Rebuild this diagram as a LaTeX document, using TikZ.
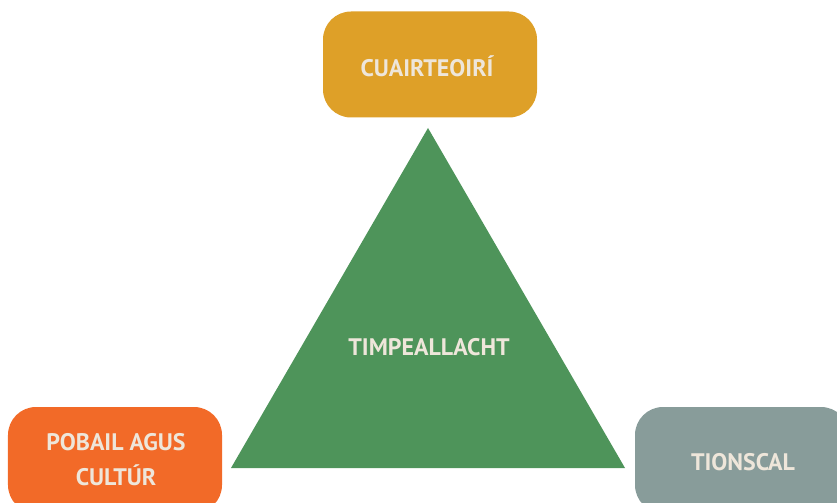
\documentclass[tikz,border=0pt]{standalone}
\usepackage{fontspec}
\setmainfont{PT Sans}
\usepackage{tikz}
\usetikzlibrary{positioning, calc}

\definecolor{tourgold}{HTML}{DEA028}
\definecolor{peopleorange}{HTML}{F26A28}
\definecolor{industrygrey}{HTML}{889C9A}
\definecolor{envgreen}{HTML}{4E945A}
\definecolor{labelcream}{HTML}{EEE6DA}

\begin{document}
\begin{tikzpicture}[x=1bp, y=-1bp, pillar/.style={rounded corners=28bp,
      minimum width=214bp, minimum height=106bp, inner sep=0pt},
      pillarlabel/.style={font=\fontsize{24}{35}\selectfont\bfseries,
      text=labelcream, align=center}]
    % Frame
    \useasboundingbox (0,0) rectangle (837,503);
    \clip (0,0) rectangle (837,503);

    % Triangle in the middle
    \coordinate (apex) at (428,128); \coordinate (baseleft) at (231,468);
    \coordinate (baseright) at (625,468);
    \fill[envgreen] (apex) -- (baseleft) -- (baseright) -- cycle;
    \node[pillarlabel] (env) at (429,347) {TIMPEALLACHT};

    % Boxes round the triangle
    \node[pillar, fill=tourgold] (tour) at (430,64.5) {};
    \node[pillar, fill=peopleorange] (people) at (115,460) {};
    \node[pillar, fill=industrygrey] (industry) at (742,460) {};

    % Labels in the boxes
    \node[pillarlabel] (tourtext) at (427,66) {CUAIRTEOIRÍ};
    \node[pillarlabel] (peopletext) at (116,459.5) {POBAIL AGUS\\CULTÚR};
    \node[pillarlabel] (industrytext) at (743,462) {TIONSCAL};

    \end{tikzpicture}
\end{document}
